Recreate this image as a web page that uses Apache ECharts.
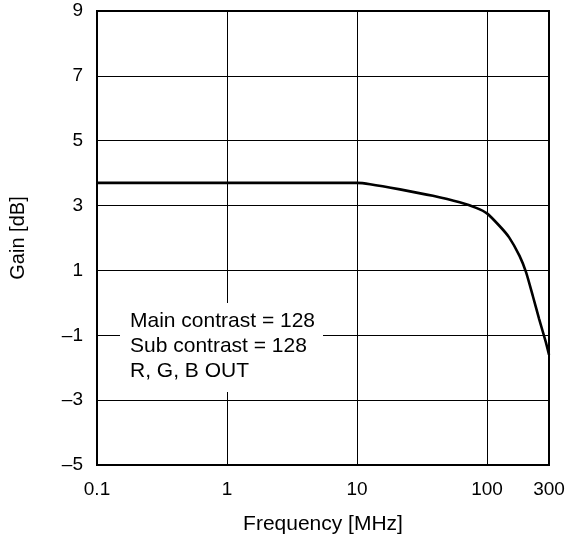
<!DOCTYPE html>
<html>
<head>
<meta charset="utf-8">
<script src="https://cdn.jsdelivr.net/npm/echarts@6/dist/echarts.min.js"></script>
<style>
html,body{margin:0;padding:0;background:#fff;}
#chart{width:568px;height:543px;}
</style>
</head>
<body>
<div id="chart"></div>
<script>
var freqMHz = [0.1, 1, 10, 12.6, 21.4, 38.4, 61.6, 82.6, 100, 125, 148, 178, 200, 225, 252, 284, 300];
var gainDb  = [3.7, 3.7, 3.7, 3.66, 3.5, 3.3, 3.1, 2.93, 2.76, 2.37, 2.02, 1.45, 0.94, 0.22, -0.5, -1.22, -1.6];
var yTicks = [-5, -3, -1, 1, 3, 5, 7, 9];
var xName = 'Frequency [MHz]';
var yName = 'Gain [dB]';
var noteLines = ['Main contrast = 128', 'Sub contrast = 128', 'R, G, B OUT'];

var FONT = '"Liberation Sans", Arial, Helvetica, sans-serif';
var chart = echarts.init(document.getElementById('chart'));
var pts = freqMHz.map(function (f, i) { return [f, gainDb[i]]; });

function minusFmt(v) { return v < 0 ? '\u2013' + Math.abs(v) : String(v); }

chart.setOption({
  animation: false,
  backgroundColor: '#fff',
  grid: {
    left: 96, right: 19, top: 11, bottom: 78,
    show: true, borderColor: '#000', borderWidth: 2, backgroundColor: 'transparent'
  },
  xAxis: {
    type: 'log', logBase: 10, min: 0.1, max: 300,
    name: xName, nameLocation: 'middle', nameGap: 49,
    nameTextStyle: { color: '#000', fontSize: 21, fontFamily: FONT },
    axisLine: { show: false }, axisTick: { show: false },
    axisLabel: {
      color: '#000', fontSize: 19, fontFamily: FONT, margin: 15,
      showMinLabel: true, showMaxLabel: true,
      formatter: function (v) { return String(Number(Number(v).toPrecision(6))); }
    },
    splitLine: { show: true, lineStyle: { color: '#000', width: 1 } },
    minorSplitLine: { show: false }
  },
  yAxis: {
    type: 'value', min: -5, max: 9,
    name: yName, nameLocation: 'middle', nameGap: 69,
    nameTextStyle: { color: '#000', fontSize: 20, fontFamily: FONT },
    axisLine: { show: false },
    axisTick: { show: false, customValues: yTicks },
    axisLabel: {
      color: '#000', fontSize: 19, fontFamily: FONT, margin: 14,
      customValues: yTicks, formatter: minusFmt
    },
    splitLine: { show: true, lineStyle: { color: '#000', width: 1 } }
  },
  graphic: [
    {
      type: 'rect', left: 120, top: 303, z: 10,
      shape: { width: 203, height: 89 },
      style: { fill: '#fff' }
    },
    {
      type: 'text', left: 130, top: 309, z: 11,
      style: {
        text: noteLines.join('\n'), fill: '#000',
        font: '21px ' + FONT, lineHeight: 25
      }
    }
  ],
  series: [{
    type: 'line', data: pts, showSymbol: false, smooth: 0.2,
    lineStyle: { color: '#000', width: 2.6 }, z: 5
  }]
});
</script>
</body>
</html>
